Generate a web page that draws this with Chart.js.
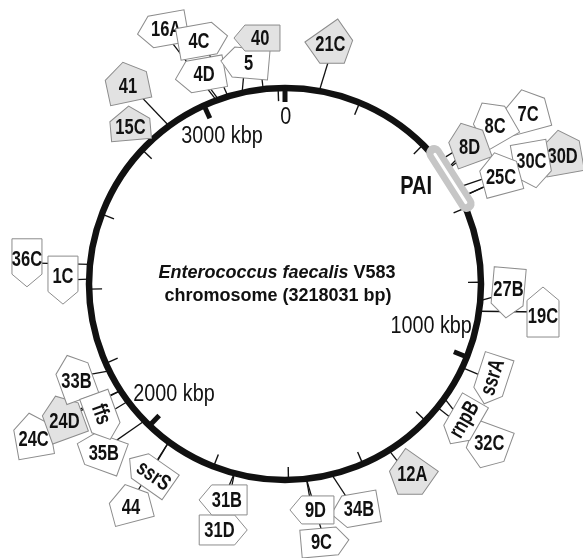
<!DOCTYPE html>
<html>
<head>
<meta charset="utf-8">
<script src="https://cdn.jsdelivr.net/npm/chart.js@4.4.1/dist/chart.umd.min.js"></script>
<style>
  html, body { margin: 0; padding: 0; background: #ffffff; }
  #wrap { width: 583px; height: 558px; }
</style>
</head>
<body>
<div id="wrap"><canvas id="genomeMap" width="583" height="558"></canvas></div>
<script>
// chromosome length and loci (kbp)
const genomeKbp = 3218.031;
const loci = ['16A', '4C', '4D', '5', '40', '41', '15C', '21C',
              '7C', '8C', '8D', '30D', '30C', '25C',
              '36C', '1C', '19C', '27B', 'ssrA', '32C', 'rnpB', '12A',
              '34B', '9C', '9D', '31D', '31B', '44', 'ssrS', '35B',
              '24C', '24D', '33B', 'ffs'];
const lociKbp = [3035, 3067, 3041, 3105, 3161, 2894, 2834, 90,
                 490, 490, 459, 570, 570, 543,
                 2465, 2426, 876, 848, 1030, 1153, 1123, 1323,
                 1486, 1553, 1553, 1743, 1743, 1934, 1934, 2018,
                 2119, 2119, 2178, 2085];
const shadedLoci = ['40', '41', '15C', '21C', '8D', '30D', '12A', '24D'];
const majorTicks = [0, 1000, 2000, 3000];
const majorLabels = ['0', '1000 kbp', '2000 kbp', '3000 kbp'];
const minorTicks = [200, 400, 600, 800, 1200, 1400, 1600, 1800, 2200, 2400, 2600, 2800, 3200];
const paiKbp = [415, 612];
const titleItalic = 'Enterococcus faecalis';
const titleRest = ' V583';
const subTitle = 'chromosome (3218031 bp)';

// where each label box sits: angle (deg), radius (x circle radius), tip rotation, size, text rotation
const boxLayout = {
  '16A': [334.2, 1.44, 80, 32, 50],
  '4C':  [341.4, 1.313, -100, 32, 50],
  '4D':  [337.9, 1.151, 80, 32, 50],
  '5':   [349.7, 1.146, 95, 30, 48],
  '40':  [353.5, 1.263, 90, 26, 46],
  '41':  [322.0, 1.309, 168, 42, 40],
  '15C': [316.1, 1.140, 175, 40, 34],
  '21C': [11.4, 1.234, -35, 40, 40],
  '7C':  [54.3, 1.52, 165, 40, 42],
  '8C':  [52.1, 1.345, 150, 36, 44],
  '8D':  [52.4, 1.179, 160, 36, 42],
  '30D': [64.5, 1.565, 170, 38, 44],
  '30C': [64.3, 1.399, -10, 36, 46],
  '25C': [62.7, 1.234, 165, 38, 42],
  '36C': [274.7, 1.321, 0, 30, 48],
  '1C':  [271.0, 1.133, 0, 30, 48],
  '19C': [96.2, 1.324, 180, 32, 50],
  '27B': [92.3, 1.139, 5, 32, 50],
  'ssrA': [114.9, 1.164, 18, 30, 50, -72],
  '32C': [128.8, 1.328, 20, 40, 44],
  'rnpB': [127.8, 1.149, 30, 30, 50, -60],
  '12A': [147.1, 1.173, 35, 40, 42],
  '34B': [162.8, 1.207, 80, 32, 48],
  '9C':  [171.2, 1.332, -95, 28, 48],
  '9D':  [173.2, 1.161, 90, 28, 44],
  '31D': [194.1, 1.294, -90, 30, 48],
  '31B': [196.0, 1.146, 90, 30, 48],
  '44':  [215.3, 1.369, 165, 40, 38],
  'ssrS': [215.5, 1.185, 125, 30, 50, 35],
  '35B': [227.8, 1.275, 110, 34, 48],
  '24C': [239.1, 1.499, 170, 36, 44],
  '24D': [239.1, 1.320, 160, 38, 44],
  '33B': [246.1, 1.172, 160, 34, 46],
  'ffs': [234.0, 1.154, -20, 30, 48, 70]
};
const tickLabelLayout = [[0.3, 0.847], [106.4, 0.777], [225.0, 0.801], [336.8, 0.816]];

const sans = '"Liberation Sans", Arial, sans-serif';

// no condensed face installed, so squeeze Liberation Sans horizontally
function narrowText(ctx, text, x, y, font, squeeze, rotDeg) {
  ctx.save();
  ctx.translate(x, y);
  if (rotDeg) ctx.rotate(rotDeg * Math.PI / 180);
  ctx.scale(squeeze, 1);
  ctx.font = font;
  ctx.textAlign = 'center';
  ctx.textBaseline = 'middle';
  ctx.fillStyle = '#111';
  ctx.fillText(text, 0, 0);
  ctx.restore();
}

const genomePlugin = {
  id: 'genomeMap',
  afterDraw(chart) {
    const ctx = chart.ctx;
    const sx = chart.scales.x, sy = chart.scales.y;
    const toPx = (deg, rad) => {
      const a = deg * Math.PI / 180;
      return [sx.getPixelForValue(rad * Math.sin(a)), sy.getPixelForValue(rad * Math.cos(a))];
    };
    const kDeg = k => k / genomeKbp * 360;
    const [cx, cy] = toPx(0, 0);
    const R = sx.getPixelForValue(1) - sx.getPixelForValue(0);

    ctx.save();
    // connectors
    ctx.strokeStyle = '#111';
    ctx.lineWidth = 1.3;
    loci.forEach((name, i) => {
      const b = boxLayout[name];
      const p0 = toPx(kDeg(lociKbp[i]), 1);
      const p1 = toPx(b[0], b[1]);
      ctx.beginPath();
      ctx.moveTo(p0[0], p0[1]);
      ctx.lineTo(p1[0], p1[1]);
      ctx.stroke();
    });

    // chromosome
    ctx.beginPath();
    ctx.arc(cx, cy, R, 0, Math.PI * 2);
    ctx.lineWidth = 6.5;
    ctx.strokeStyle = '#111';
    ctx.stroke();

    // ticks
    ctx.lineCap = 'butt';
    minorTicks.forEach(k => {
      const p0 = toPx(kDeg(k), 1);
      const p1 = toPx(kDeg(k), 1 - 13 / R);
      ctx.beginPath();
      ctx.moveTo(p0[0], p0[1]);
      ctx.lineTo(p1[0], p1[1]);
      ctx.lineWidth = 1.4;
      ctx.stroke();
    });
    majorTicks.forEach((k, i) => {
      const p0 = toPx(kDeg(k), 1 + 2 / R);
      const p1 = toPx(kDeg(k), 1 - 14 / R);
      ctx.beginPath();
      ctx.moveTo(p0[0], p0[1]);
      ctx.lineTo(p1[0], p1[1]);
      ctx.lineWidth = 5;
      ctx.stroke();
      const lp = toPx(tickLabelLayout[i][0], tickLabelLayout[i][1]);
      narrowText(ctx, majorLabels[i], lp[0], lp[1], '23px ' + sans, 0.86);
    });

    // pathogenicity island
    const a0 = toPx(kDeg(paiKbp[0]), 1.02), a1 = toPx(kDeg(paiKbp[1]), 1.02);
    const ang = Math.atan2(a1[1] - a0[1], a1[0] - a0[0]);
    const len = Math.hypot(a1[0] - a0[0], a1[1] - a0[1]);
    ctx.save();
    ctx.translate(a0[0], a0[1]);
    ctx.rotate(ang);
    ctx.beginPath();
    ctx.roundRect(0, -8, len, 16, 8);
    ctx.fillStyle = '#c6c6c6';
    ctx.fill();
    ctx.beginPath();
    ctx.roundRect(8, -1.5, len - 16, 3, 1.5);
    ctx.fillStyle = '#ffffff';
    ctx.fill();
    ctx.restore();
    const pl = toPx(53.5, 0.832);
    narrowText(ctx, 'PAI', pl[0], pl[1], 'bold 25px ' + sans, 0.8);

    // title
    ctx.fillStyle = '#111';
    ctx.font = 'italic bold 18px ' + sans;
    const wi = ctx.measureText(titleItalic).width;
    ctx.font = 'bold 18px ' + sans;
    const wr = ctx.measureText(titleRest).width;
    const tx = cx - 8 - (wi + wr) / 2;
    ctx.textAlign = 'left';
    ctx.textBaseline = 'alphabetic';
    ctx.font = 'italic bold 18px ' + sans;
    ctx.fillText(titleItalic, tx, cy - 6);
    ctx.font = 'bold 18px ' + sans;
    ctx.fillText(titleRest, tx + wi, cy - 6);
    ctx.textAlign = 'center';
    ctx.fillText(subTitle, cx - 7, cy + 17);

    // label boxes
    loci.forEach(name => {
      const b = boxLayout[name];
      const [x, y] = toPx(b[0], b[1]);
      const rot = b[2] * Math.PI / 180, w = b[3], h = b[4];
      const t = Math.min(14, w * 0.42);
      ctx.save();
      ctx.translate(x, y);
      ctx.rotate(rot);
      ctx.beginPath();
      ctx.moveTo(-w / 2, -h / 2);
      ctx.lineTo(w / 2, -h / 2);
      ctx.lineTo(w / 2, h / 2 - t);
      ctx.lineTo(0, h / 2);
      ctx.lineTo(-w / 2, h / 2 - t);
      ctx.closePath();
      ctx.fillStyle = shadedLoci.includes(name) ? '#e2e2e2' : '#ffffff';
      ctx.fill();
      ctx.strokeStyle = '#8c8c8c';
      ctx.lineWidth = 1;
      ctx.stroke();
      ctx.restore();
      const s = t * 0.3;
      narrowText(ctx, name, x + Math.sin(rot) * s, y - Math.cos(rot) * s + 1,
                 'bold 22px ' + sans, 0.75, b[5] || 0);
    });
    ctx.restore();
  }
};

new Chart(document.getElementById('genomeMap').getContext('2d'), {
  type: 'scatter',
  data: {
    datasets: [{
      label: 'loci',
      data: lociKbp.map(k => ({
        x: Math.sin(k / genomeKbp * 2 * Math.PI),
        y: Math.cos(k / genomeKbp * 2 * Math.PI)
      })),
      pointRadius: 0
    }]
  },
  options: {
    responsive: false,
    animation: false,
    events: [],
    layout: { padding: 0 },
    plugins: {
      legend: { display: false },
      tooltip: { enabled: false }
    },
    scales: {
      x: { type: 'linear', display: false, min: -1.4541, max: 1.5204 },
      y: { type: 'linear', display: false, min: -1.3980, max: 1.4490 }
    }
  },
  plugins: [genomePlugin]
});
</script>
</body>
</html>
